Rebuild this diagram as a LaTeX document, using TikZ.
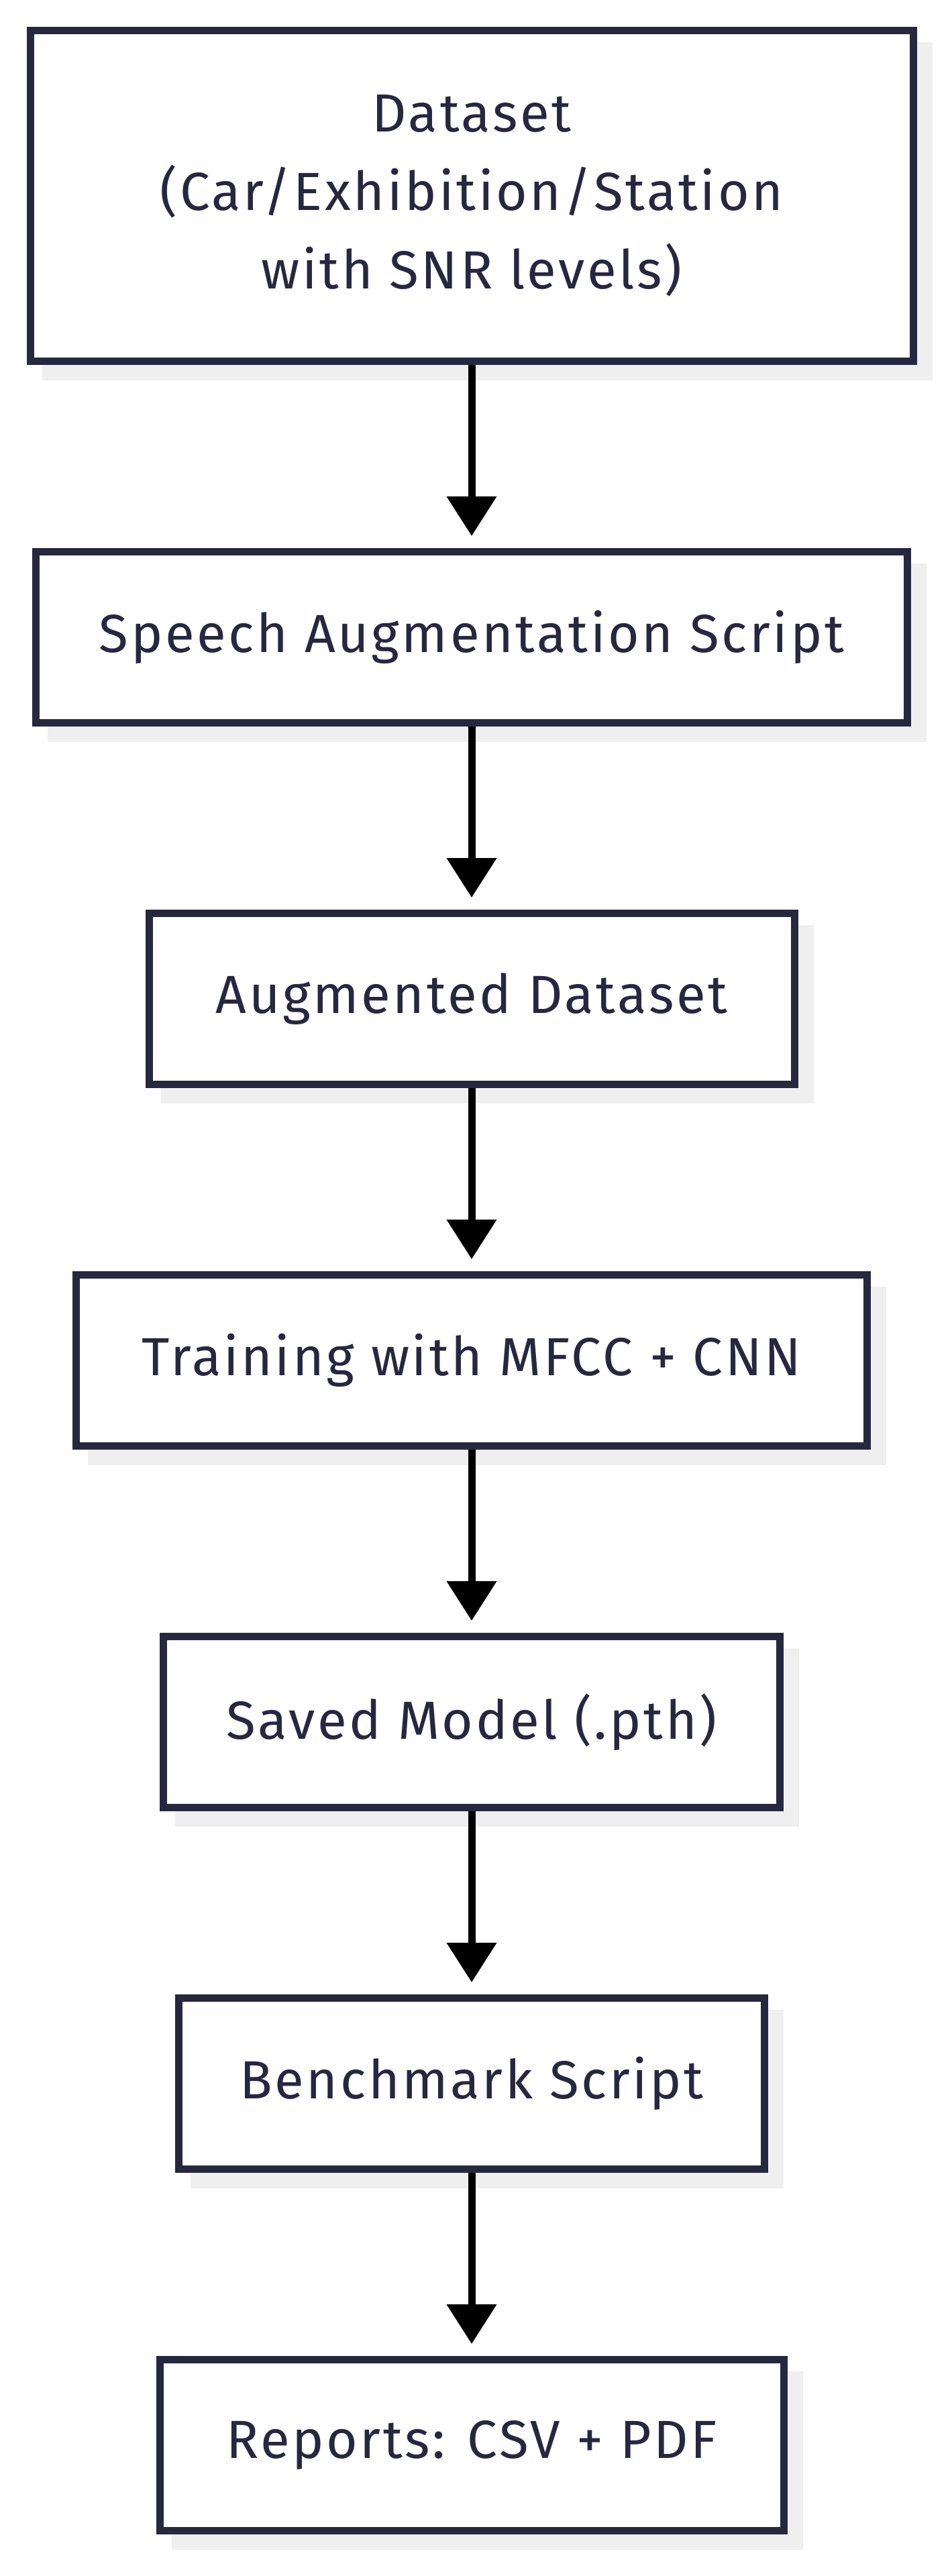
\documentclass[tikz,border=0pt]{standalone}
\usepackage{fontspec}
\setmainfont{Fira Sans}[LetterSpace=4.5]
\usetikzlibrary{arrows.meta,backgrounds}
\definecolor{ink}{HTML}{272740}
\definecolor{shadowc}{HTML}{EFEFEF}
\tikzset{
  box/.style={draw=ink, line width=5.5pt, fill=white, rectangle, text=ink,
    minimum height=127.5pt, align=center,
    font=\fontsize{40}{58.5}\selectfont},
  arr/.style={draw=black, line width=5.5pt, -{Triangle[width=36pt,length=29.5pt]}, shorten >=9pt},
}
\newcommand{\shadowof}[1]{\fill[shadowc] ([shift={(11.5pt,-11.5pt)}]#1.north west) rectangle ([shift={(11.5pt,-11.5pt)}]#1.south east);}
\begin{document}
\begin{tikzpicture}
\useasboundingbox (0,0) rectangle (707.5pt,-1920pt);
\node[box, minimum width=658pt, minimum height=246.5pt] (b1) at (351.5pt,-146pt) {Dataset\\(Car/Exhibition/Station\\with SNR levels)};
\node[box, minimum width=649.5pt] (b2) at (351.5pt,-475pt) {Speech Augmentation Script};
\node[box, minimum width=481pt] (b3) at (351.5pt,-744.5pt) {Augmented Dataset};
\node[box, minimum width=589.25pt] (b4) at (351.5pt,-1014pt) {Training with MFCC + CNN};
\node[box, minimum width=459.5pt] (b5) at (351.5pt,-1283.5pt) {Saved Model (.pth)};
\node[box, minimum width=436.5pt] (b6) at (351.5pt,-1553pt) {Benchmark Script};
\node[box, minimum width=465pt] (b7) at (351.5pt,-1822.5pt) {Reports: CSV + PDF};
\begin{pgfonlayer}{background}
\fill[white] (0,0) rectangle (707.5pt,-1920pt);
\shadowof{b1}\shadowof{b2}\shadowof{b3}\shadowof{b4}\shadowof{b5}\shadowof{b6}\shadowof{b7}
\end{pgfonlayer}
\draw[arr] (b1) -- (b2);
\draw[arr] (b2) -- (b3);
\draw[arr] (b3) -- (b4);
\draw[arr] (b4) -- (b5);
\draw[arr] (b5) -- (b6);
\draw[arr] (b6) -- (b7);
\end{tikzpicture}
\end{document}
